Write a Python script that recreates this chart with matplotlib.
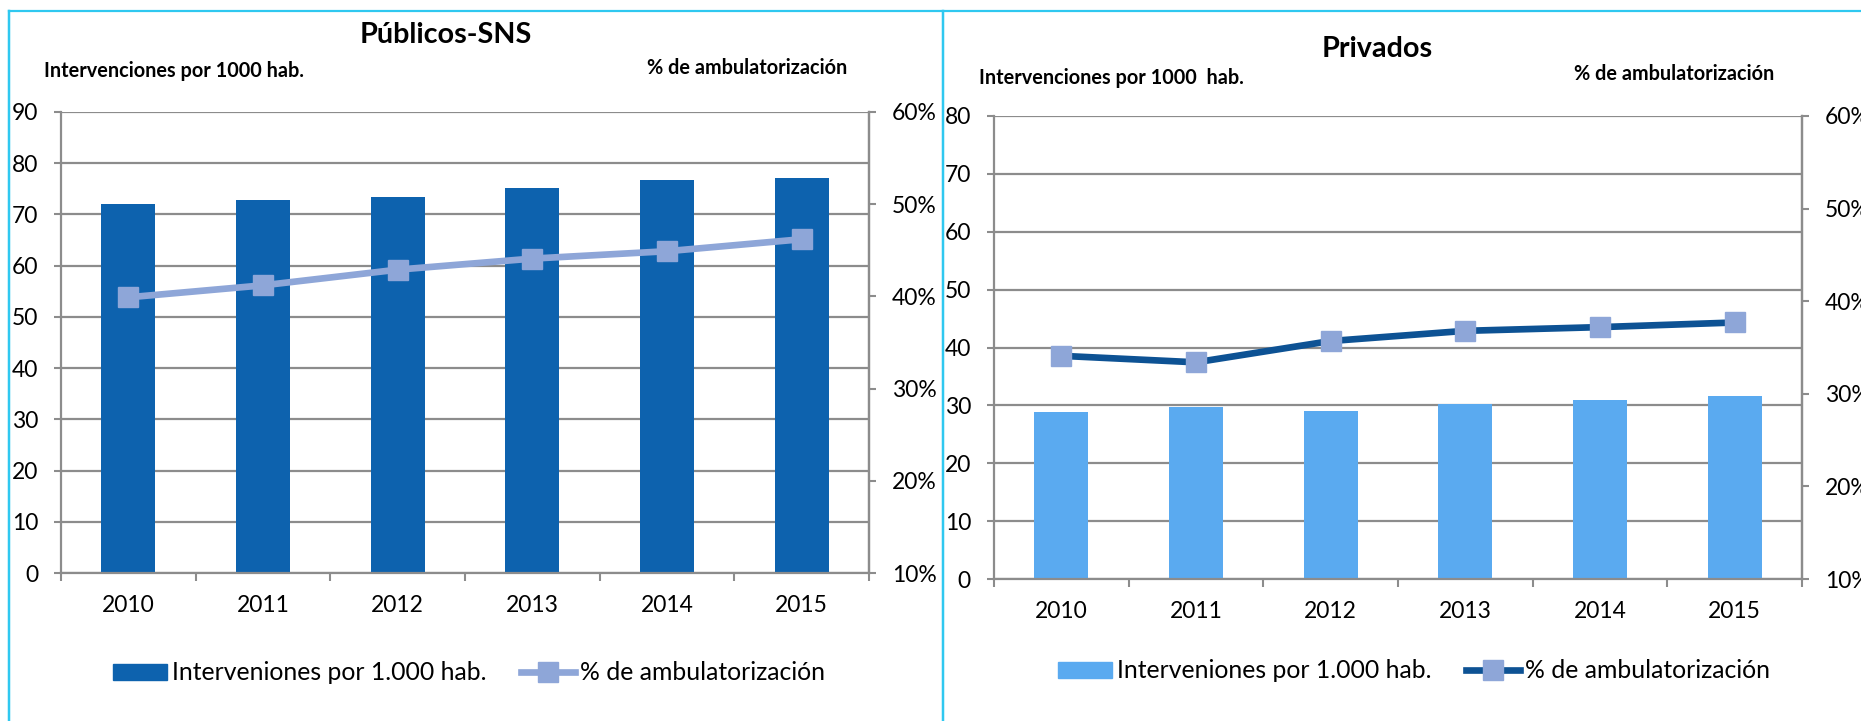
import matplotlib
matplotlib.use("Agg")
import matplotlib.pyplot as plt
from matplotlib.lines import Line2D
from matplotlib.ticker import FuncFormatter, MultipleLocator, FixedLocator

plt.rcParams['font.family'] = ['Lato', 'DejaVu Sans']

years = ["2010", "2011", "2012", "2013", "2014", "2015"]
pub_interv = [72.0, 72.9, 73.5, 75.2, 76.8, 77.1]
pub_ambul = [0.399, 0.412, 0.429, 0.441, 0.449, 0.462]
priv_interv = [28.9, 29.8, 29.1, 30.2, 30.9, 31.6]
priv_ambul = [0.341, 0.334, 0.357, 0.368, 0.372, 0.377]

bar_label = "Interveniones por 1.000 hab."
line_label = "% de ambulatorización"

W, H = 1861, 721
fig = plt.figure(figsize=(W / 100, H / 100), dpi=100)
fig.patch.set_facecolor("white")

GRID = "#8c8c8c"
TICK_FS = 16.5
LEG_FS = 17.8
CAP_FS = 14.3
px = 72 / 100  # points per pixel


def fx(x):
    return x / W


def fy(y):
    return 1 - y / H


def panel(rect, vals, pct, ymax, bar_color, line_color, marker_color):
    ax = fig.add_axes(rect)
    x = list(range(len(years)))
    ax.bar(x, vals, width=0.4, color=bar_color, zorder=2)
    ax.set_xlim(-0.5, len(years) - 0.5)
    ax.set_ylim(0, ymax)
    ax.yaxis.set_major_locator(MultipleLocator(10))
    ax.grid(axis="y", color=GRID, linewidth=1.6)
    ax.set_axisbelow(True)
    ax.set_xticks(x)
    ax.set_xticklabels(years)
    ax.xaxis.set_minor_locator(FixedLocator([i - 0.5 for i in range(len(years) + 1)]))
    ax.tick_params(axis="x", which="major", length=0, pad=22 * px, labelsize=TICK_FS)
    ax.tick_params(axis="x", which="minor", length=8 * px, width=1.5, color=GRID, direction="out")
    ax.tick_params(axis="y", length=7 * px, width=1.5, color=GRID, pad=16 * px, labelsize=TICK_FS)
    ax.spines["top"].set_visible(False)
    for s in ["left", "right", "bottom"]:
        ax.spines[s].set_color(GRID)
        ax.spines[s].set_linewidth(1.6)

    ax2 = ax.twinx()
    ax2.plot(x, pct, color=line_color, linewidth=4.8, marker="s", markersize=15,
             markerfacecolor=marker_color, markeredgecolor=marker_color, zorder=3)
    ax2.set_ylim(0.1, 0.6)
    ax2.yaxis.set_major_locator(FixedLocator([0.1, 0.2, 0.3, 0.4, 0.5, 0.6]))
    ax2.yaxis.set_major_formatter(FuncFormatter(lambda v, p: f"{round(v * 100):d}%"))
    ax2.tick_params(axis="y", length=7 * px, width=1.5, color=GRID, pad=16 * px, labelsize=TICK_FS)
    for s in ["top", "left", "bottom"]:
        ax2.spines[s].set_visible(False)
    ax2.spines["right"].set_color(GRID)
    ax2.spines["right"].set_linewidth(1.6)
    return ax, ax2


# Left panel
axL, axL2 = panel([fx(61), fy(573), fx(869) - fx(61), fy(112) - fy(573)],
                  pub_interv, pub_ambul, 90, "#0d62ae", "#8ea6d8", "#8ea6d8")
# Right panel
axR, axR2 = panel([fx(994), fy(579), fx(1802) - fx(994), fy(116) - fy(579)],
                  priv_interv, priv_ambul, 80, "#5aaaf0", "#0d5294", "#8ea6d8")

# Titles and axis captions
fig.text(fx(446), fy(35), "Públicos-SNS", ha="center", va="center", fontsize=20.7, fontweight="bold")
fig.text(fx(1377), fy(49), "Privados", ha="center", va="center", fontsize=20.7, fontweight="bold")
fig.text(fx(44), fy(71), "Intervenciones por 1000 hab.", ha="left", va="center", fontsize=CAP_FS, fontweight="bold")
fig.text(fx(647), fy(68), "% de ambulatorización", ha="left", va="center", fontsize=CAP_FS, fontweight="bold")
fig.text(fx(979), fy(78), "Intervenciones por 1000  hab.", ha="left", va="center", fontsize=CAP_FS, fontweight="bold")
fig.text(fx(1574), fy(74), "% de ambulatorización", ha="left", va="center", fontsize=CAP_FS, fontweight="bold")


def legend(bar_color, line_color, marker_color, cx, cy):
    h1 = plt.Rectangle((0, 0), 1, 1, color=bar_color)
    h2 = Line2D([0], [0], color=line_color, linewidth=4.8, marker="s", markersize=15,
                markerfacecolor=marker_color, markeredgecolor=marker_color)
    fig.legend([h1, h2], [bar_label, line_label], loc="center", bbox_to_anchor=(fx(cx), fy(cy)),
               ncol=2, frameon=False, fontsize=LEG_FS, handlelength=2.2, handleheight=0.65,
               handletextpad=0.2, columnspacing=1.4)


legend("#0d62ae", "#8ea6d8", "#8ea6d8", 469, 673)
legend("#5aaaf0", "#0d5294", "#8ea6d8", 1414, 671)

# Cyan borders
CY = "#2fc8f0"
fig.add_artist(Line2D([fx(9), fx(9)], [fy(11), 0], color=CY, linewidth=2.5 * px))
fig.add_artist(Line2D([fx(9), 1], [fy(11), fy(11)], color=CY, linewidth=2.2 * px))
fig.add_artist(Line2D([fx(943), fx(943)], [fy(11), 0], color=CY, linewidth=2.5 * px))

fig.savefig("out.png", dpi=100, facecolor="white")
